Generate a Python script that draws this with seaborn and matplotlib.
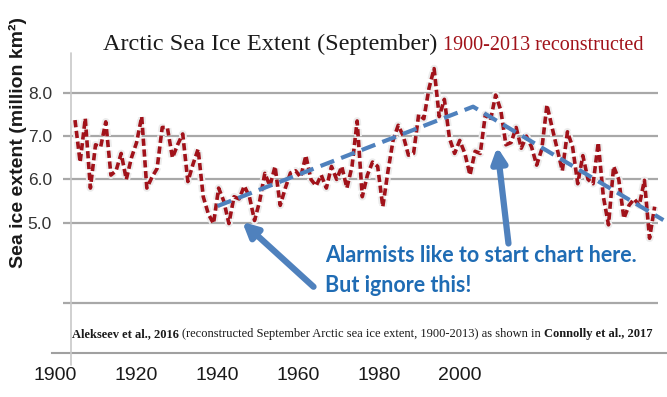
import matplotlib
matplotlib.use("Agg")
import matplotlib.pyplot as plt
import matplotlib.patheffects as pe
import seaborn as sns
import pandas as pd

# reconstructed September sea ice extent (million km2)
years = list(range(1900, 2014))
extent = [
    7.37, 6.40, 7.41, 5.80, 6.80, 6.75, 7.33, 6.10, 6.20, 6.60,   # 1900s
    6.00, 6.50, 6.85, 7.45, 5.80, 6.05, 6.25, 7.20, 7.20, 6.50,   # 1910s
    6.80, 7.05, 5.95, 6.35, 6.70, 5.60, 5.20, 4.98, 5.80, 5.50,   # 1920s
    4.98, 5.60, 5.55, 5.85, 5.60, 5.05, 5.50, 6.14, 5.85, 6.30,   # 1930s
    5.40, 5.80, 6.15, 6.20, 6.05, 6.55, 6.00, 5.85, 6.10, 5.80,   # 1940s
    6.30, 6.00, 6.30, 5.80, 6.30, 7.35, 5.60, 6.10, 6.40, 6.30,   # 1950s
    5.37, 6.18, 6.90, 7.25, 7.00, 6.56, 6.60, 7.50, 7.40, 8.10,   # 1960s
    8.56, 7.45, 7.85, 6.95, 6.60, 6.90, 6.60, 6.10, 6.65, 6.60,   # 1970s
    7.50, 7.37, 7.95, 7.60, 6.80, 6.85, 7.20, 6.72, 7.00, 6.75,   # 1980s
    6.33, 6.70, 7.72, 7.20, 6.70, 6.20, 7.10, 6.75, 5.90, 6.55,   # 1990s
    6.00, 5.90, 6.85, 5.60, 4.95, 6.30, 6.00, 5.10, 5.40, 5.55,   # 2000s
    5.40, 5.98, 4.64, 5.37,                                       # 2010s
]
df = pd.DataFrame({"year": years, "extent": extent})

# hand drawn trend line and arrows of the annotation
trend_years = [1927.8, 1977.6, 2014.7]
trend_vals = [5.385, 7.68, 5.06]
arrow_heads = [(1932.6, 5.02), (1982.3, 6.75)]
arrow_tails = [(1946.5, 3.52), (1984.5, 4.52)]

grid_vals = [5.0, 6.0, 7.0, 8.0]
tick_labels = ["5.0", "6.0", "7.0", "8.0"]
x_ticks = [1900, 1920, 1940, 1960, 1980, 2000]

W, H = 667, 397
BLUE = "#4f81bd"
RED = "#a1121a"


def fx(p):
    return p / W


def fy(p):
    return 1 - p / H


sns.set_style("white")
plt.rcParams["font.family"] = ["Liberation Sans", "DejaVu Sans"]

fig = plt.figure(figsize=(W / 100, H / 100), dpi=100)

# outer axis: only the bottom line with the year ticks
ax_out = fig.add_axes([fx(52), fy(353), fx(615), fy(53) - fy(353)])
ax_out.set_facecolor("none")
for s in ["top", "left", "right"]:
    ax_out.spines[s].set_visible(False)
ax_out.spines["bottom"].set_color("#a0a0a0")
ax_out.spines["bottom"].set_linewidth(1.5)
ax_out.set_xlim(1899.26, 2051.1)
ax_out.set_xticks(x_ticks)
ax_out.set_xticklabels([str(t) for t in x_ticks], fontsize=14)
ax_out.tick_params(axis="x", direction="out", length=7, width=1, colors="#a0a0a0",
                   labelcolor="#1a1a1a", pad=3)
ax_out.set_yticks([])

# inner chart
ax = fig.add_axes([fx(63), fy(353), fx(595), fy(53) - fy(353)])
ax.set_facecolor("none")
for s in ["top", "left", "right", "bottom"]:
    ax.spines[s].set_visible(False)
ax.set_xlim(1897.66, 2013.65)
ax.set_ylim(1.99, 8.92)
ax.set_yticks(grid_vals)
ax.set_yticklabels(tick_labels, fontsize=12.5, color="#333333")
ax.tick_params(axis="y", length=0, pad=8)
ax.set_xticks([])
ax.grid(axis="y", color="#a8a8a8", linewidth=1.6)
ax.axhline(3.15, color="#a8a8a8", linewidth=1.6)
ax.axvline(1899.16, ymin=-0.04, ymax=1, color="#c8c8c8", linewidth=1.2, clip_on=False)

sns.lineplot(data=df, x="year", y="extent", ax=ax, color=RED, linewidth=2.6,
             dashes=False, zorder=3,
             path_effects=[pe.Stroke(linewidth=5.5, foreground="#ececec"), pe.Normal()])
ax.lines[-1].set_dashes((2.0, 1.0))
ax.set_xlabel("")
ax.set_ylabel("")

ax.plot(trend_years, trend_vals, color=BLUE, linewidth=3, dashes=(3.5, 1.8),
        clip_on=False, zorder=4)
for head, tail in zip(arrow_heads, arrow_tails):
    ax.annotate("", xy=head, xytext=tail,
                arrowprops=dict(arrowstyle="-|>", color=BLUE, lw=4.5,
                                mutation_scale=22, shrinkA=0, shrinkB=0),
                zorder=5)

# y label of the outer chart
fig.text(fx(18), fy(143), "Sea ice extent (million km²)", rotation=90,
         ha="center", va="center", fontsize=14, fontweight="bold", color="#1a1a1a")

# title of the inner chart
serif = ["Liberation Serif", "DejaVu Serif"]
fig.canvas.draw()
r = fig.canvas.get_renderer()


def chain(pieces, x0, y0):
    # put text pieces one after another on the same baseline
    x = fx(x0)
    for txt, kw in pieces:
        t = fig.text(x, fy(y0), txt, va="baseline", family=serif, **kw)
        fig.canvas.draw()
        x = t.get_window_extent(r).x1 / fig.bbox.width


chain([("Arctic Sea Ice Extent ", dict(fontsize=17.5, color="#1a1a1a")),
       ("(September) ", dict(fontsize=17.5, color="#1a1a1a")),
       ("1900-2013 reconstructed", dict(fontsize=14.5, color=RED))], 103, 50)

# source line
chain([("Alekseev et al., 2016 ", dict(fontsize=9, fontweight="bold", color="#1a1a1a")),
       ("(reconstructed September Arctic sea ice extent, 1900-2013) as shown in ",
        dict(fontsize=9, color="#1a1a1a")),
       ("Connolly et al., 2017", dict(fontsize=9, fontweight="bold", color="#1a1a1a"))],
      72, 337)

# annotation
fig.text(fx(325), fy(256), "Alarmists like to start chart here.", fontsize=15.5,
         fontweight="bold", family=["Lato", "DejaVu Sans"], color="#1f6cb4", va="center")
fig.text(fx(325), fy(286), "But ignore this!", fontsize=15.5,
         fontweight="bold", family=["Lato", "DejaVu Sans"], color="#1f6cb4", va="center")

fig.savefig("out.png", dpi=100)
